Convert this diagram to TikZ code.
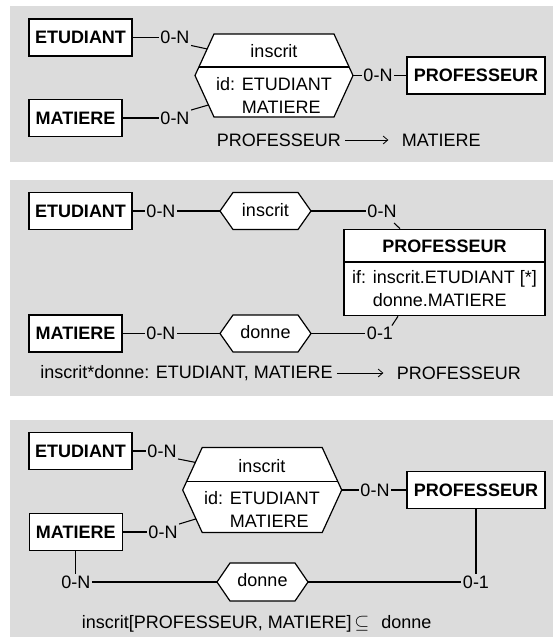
\documentclass[tikz,border=0pt]{standalone}
\usepackage{fontspec}
\setmainfont{Liberation Sans}
\usetikzlibrary{calc,arrows.meta}
\definecolor{panel}{RGB}{220,220,220}
\definecolor{ink}{RGB}{0,0,0}
\newcommand\mkhex[6]{%
  \coordinate (#1l) at ({#2-#4},#3);
  \coordinate (#1tl) at ({#2-#5},{#3-#6});
  \coordinate (#1tr) at ({#2+#5},{#3-#6});
  \coordinate (#1r) at ({#2+#4},#3);
  \coordinate (#1br) at ({#2+#5},{#3+#6});
  \coordinate (#1bl) at ({#2-#5},{#3+#6});
  \draw[hexa] (#1l) -- (#1tl) -- (#1tr) -- (#1r) -- (#1br) -- (#1bl) -- cycle;}
\begin{document}
\begin{tikzpicture}[x=0.75pt,y=-0.75pt,
  font=\fontsize{13.5pt}{17.25pt}\selectfont,
  ent/.style={draw=ink, fill=white, line width=0.9pt, inner sep=0pt, text=ink,
    font=\fontsize{13.5pt}{17.25pt}\selectfont\bfseries},
  card/.style={inner sep=1pt, text=ink},
  txt/.style={inner sep=0pt, text=ink},
  lnk/.style={draw=ink, line width=0.8pt},
  hexa/.style={draw=ink, fill=white, line width=0.9pt},
  fdarrow/.style={draw=ink, -{Straight Barb[length=3.5pt,width=6pt]}, line width=0.6pt}]
\useasboundingbox (0,0) rectangle (553,637);

% ---------------- panel 1
\fill[panel] (9.5,6) rectangle (553,162);
\node[ent, minimum width=77.25pt, minimum height=27.75pt] (e1) at (80.5,37.5) {ETUDIANT};
\node[ent, minimum width=69.75pt, minimum height=27.75pt] (m1) at (75.5,118) {MATIERE};
\node[ent, minimum width=103.5pt, minimum height=27.75pt] (p1) at (476,75.5) {PROFESSEUR};
\mkhex{h1}{274}{75.5}{79}{60}{41.5}
\draw[lnk] ($(h1tl)!0.795!(h1l)$) -- ($(h1tr)!0.795!(h1r)$);
\node[txt] (h1n) at (274,51) {inscrit};
\node[txt, align=left] (h1id) at (274,95.5) {id: ETUDIANT\\\phantom{id: }MATIERE};
\node[card] (c1a) at (175,37.5) {0-N};
\node[card] (c1b) at (175,118) {0-N};
\node[card] (c1c) at (378,75.5) {0-N};
\draw[lnk] (e1) -- (c1a);
\draw[lnk] (c1a.south east) -- ($(h1tl)!0.36!(h1l)$);
\draw[lnk] (m1) -- (c1b);
\draw[lnk] (c1b.north east) -- ($(h1l)!0.71!(h1bl)$);
\draw[lnk] (h1r) -- (c1c);
\draw[lnk] (c1c) -- (p1);
\node[txt, anchor=west] (f1a) at (216.7,140) {PROFESSEUR};
\node[txt, anchor=west] (f1b) at (401.7,140) {MATIERE};
\draw[fdarrow] ([xshift=3pt]f1a.east) -- ([xshift=-10pt]f1b.west);

% ---------------- panel 2
\fill[panel] (9.5,180) rectangle (553,396);
\node[ent, minimum width=77.25pt, minimum height=27.75pt] (e2) at (80.5,211) {ETUDIANT};
\node[card] (c2a) at (161,211) {0-N};
\mkhex{h2}{265.5}{211}{45.5}{32.5}{18.5}
\node[txt] (h2n) at (265.5,210) {inscrit};
\node[card] (c2b) at (382,211) {0-N};
\draw[lnk] (e2) -- (c2a);
\draw[lnk] (c2a) -- (h2l);
\draw[lnk] (h2r) -- (c2b);
\node[ent, minimum width=150.75pt, minimum height=64.8pt] (p2) at (444.5,272.5) {};
\coordinate (d2) at (0,262);
\draw[line width=0.9pt, draw=ink] (p2.west |- d2) -- (p2.east |- d2);
\node[txt, font=\fontsize{13.5pt}{17.25pt}\selectfont\bfseries] (p2n) at (444.5,246) {PROFESSEUR};
\node[txt, align=left] (p2if) at (444.5,289) {if: inscrit.ETUDIANT [*]\\\phantom{if: }donne.MATIERE};
\draw[lnk] ([xshift=-3pt,yshift=-3pt]c2b.south east) -- ($(p2.north west)!0.28!(p2.north east)$);
\node[ent, minimum width=69.75pt, minimum height=27.75pt] (m2) at (75.5,333.5) {MATIERE};
\node[card] (c2c) at (161,333.5) {0-N};
\mkhex{h3}{265.5}{333.5}{45.5}{32.5}{18.5}
\node[txt] (h3n) at (265.5,332.5) {donne};
\node[card] (c2d) at (380,333.5) {0-1};
\draw[lnk] (m2) -- (c2c);
\draw[lnk] (c2c) -- (h3l);
\draw[lnk] (h3r) -- (c2d);
\draw[lnk] ([xshift=-2pt]c2d.north east) -- ($(p2.south west)!0.27!(p2.south east)$);
\node[txt, anchor=west] (f2a) at (40,373) {inscrit*donne: ETUDIANT, MATIERE};
\node[txt, anchor=west] (f2b) at (396.7,373) {PROFESSEUR};
\draw[fdarrow] ([xshift=3pt]f2a.east) -- ([xshift=-10pt]f2b.west);

% ---------------- panel 3
\fill[panel] (9.5,420) rectangle (553,637);
\node[ent, minimum width=77.25pt, minimum height=27.75pt] (e3) at (80.5,451) {ETUDIANT};
\node[card] (c3a) at (162,451) {0-N};
\mkhex{h4}{262.2}{490}{79.5}{60}{42.5}
\draw[lnk] ($(h4tl)!0.805!(h4l)$) -- ($(h4tr)!0.805!(h4r)$);
\node[txt] (h4n) at (262,466) {inscrit};
\node[txt, align=left] (h4id) at (262,510) {id: ETUDIANT\\\phantom{id: }MATIERE};
\draw[lnk] (e3) -- (c3a);
\draw[lnk] (c3a.south east) -- ($(h4tl)!0.35!(h4l)$);
\node[ent, minimum width=69.75pt, minimum height=27.75pt] (m3) at (75.8,532) {MATIERE};
\node[card] (c3b) at (163,532) {0-N};
\draw[lnk] (m3) -- (c3b);
\draw[lnk] (c3b.north east) -- ($(h4l)!0.68!(h4bl)$);
\node[ent, minimum width=103.5pt, minimum height=28pt] (p3) at (476,490) {PROFESSEUR};
\node[card] (c3c) at (375,490) {0-N};
\draw[lnk] (h4r) -- (c3c);
\draw[lnk] (c3c) -- (p3);
\node[card] (c3d) at (75.8,582) {0-N};
\node[card] (c3e) at (476,582) {0-1};
\mkhex{h5}{262.5}{582}{45.5}{32.5}{19}
\node[txt] (h5n) at (262.5,580) {donne};
\draw[lnk] (m3.south) -- (c3d.north);
\draw[lnk] (p3.south) -- (c3e.north);
\draw[lnk] (c3d) -- (h5l);
\draw[lnk] (h5r) -- (c3e);
\node[txt, anchor=west] (f3) at (81.7,624) {inscrit[PROFESSEUR, MATIERE]\hspace{2pt}$\subseteq$\hspace{9pt}donne};
\end{tikzpicture}
\end{document}
